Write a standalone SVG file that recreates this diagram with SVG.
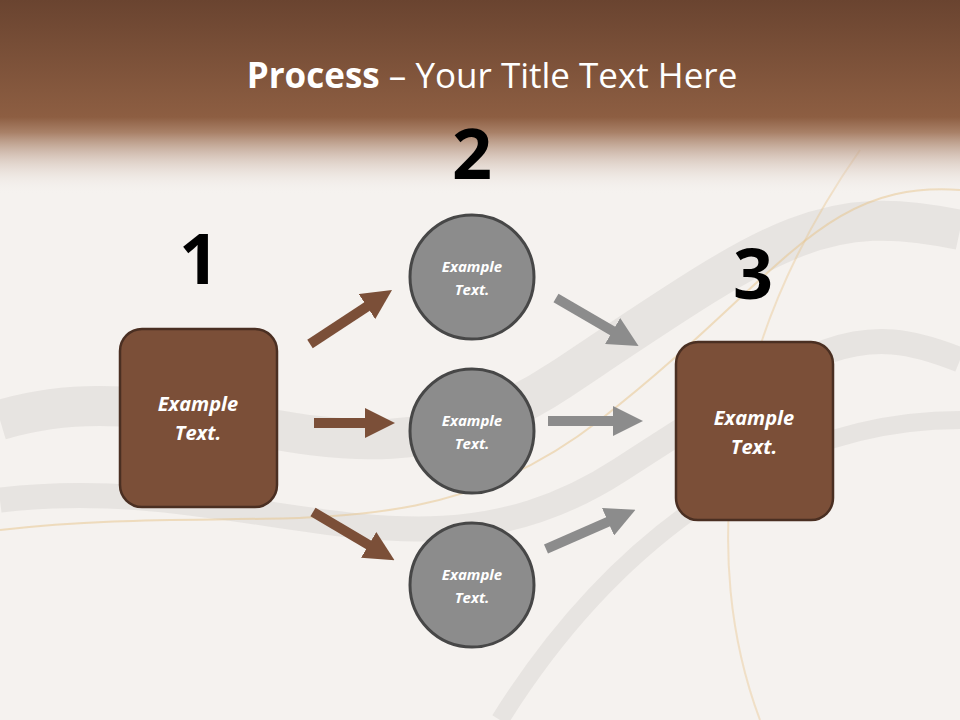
<svg xmlns="http://www.w3.org/2000/svg" width="960" height="720" viewBox="0 0 960 720">
<defs>
<linearGradient id="hdr" x1="0" y1="0" x2="0" y2="1">
<stop offset="0" stop-color="#6a4430"/>
<stop offset="0.6" stop-color="#8d5e42"/>
<stop offset="0.68" stop-color="#a98168"/>
<stop offset="1" stop-color="#f6f3f1" stop-opacity="0"/>
</linearGradient>
<marker id="ab" viewBox="0 0 10 10" refX="4" refY="5" markerWidth="3" markerHeight="3" orient="auto"><path d="M0,0 L10,5 L0,10 z" fill="#7b4f38"/></marker>
<marker id="ag" viewBox="0 0 10 10" refX="4" refY="5" markerWidth="3" markerHeight="3" orient="auto"><path d="M0,0 L10,5 L0,10 z" fill="#8c8c8c"/></marker>
<style>
.box{fill:#7b4f38;stroke:#4a2f22;stroke-width:2.5}
.cir{fill:#8c8c8c;stroke:#474747;stroke-width:3}
.bt{font-family:"Open Sans","Liberation Sans",sans-serif;font-weight:bold;font-style:italic;fill:#fff;text-anchor:middle}
.num{font-family:"Open Sans","Liberation Sans",sans-serif;font-weight:bold;font-size:70px;fill:#000;text-anchor:middle}
.wave{fill:none;stroke:#c8c4c0;stroke-opacity:0.3}
</style>
</defs>
<rect width="960" height="720" fill="#f5f2ef"/>
<g>
<path class="wave" stroke-width="40" d="M0,420 C200,360 350,520 560,380 S820,200 960,230"/>
<path class="wave" stroke-width="25" d="M0,500 C250,470 420,600 620,470 S860,320 960,360"/>
<path class="wave" stroke-width="18" d="M500,720 C600,560 760,420 960,420"/>
<path fill="none" stroke="#e8c48a" stroke-width="2" stroke-opacity="0.5" d="M0,530 C260,500 420,560 600,420 S820,180 960,190"/>
<path fill="none" stroke="#e8c48a" stroke-width="2" stroke-opacity="0.4" d="M760,720 C700,560 720,350 860,150"/>
</g>
<rect width="960" height="195" fill="url(#hdr)"/>
<text x="492" y="88" font-family="'Open Sans','Liberation Sans',sans-serif" font-size="35" fill="#fff" text-anchor="middle"><tspan font-weight="bold">Process</tspan> – Your Title Text Here</text>
<text class="num" x="199" y="284">1</text>
<text class="num" x="472" y="179">2</text>
<text class="num" x="753" y="299">3</text>
<g id="connectors" stroke-width="10">
<line x1="310" y1="344" x2="377" y2="300" stroke="#7b4f38" marker-end="url(#ab)"/>
<line x1="314" y1="423" x2="377" y2="423" stroke="#7b4f38" marker-end="url(#ab)"/>
<line x1="313" y1="512" x2="379" y2="551" stroke="#7b4f38" marker-end="url(#ab)"/>
<line x1="556" y1="298" x2="623" y2="337" stroke="#8c8c8c" marker-end="url(#ag)"/>
<line x1="548" y1="421" x2="625" y2="421" stroke="#8c8c8c" marker-end="url(#ag)"/>
<line x1="546" y1="549" x2="619" y2="517" stroke="#8c8c8c" marker-end="url(#ag)"/>
</g>
<g id="box1"><rect class="box" x="120" y="329" width="157" height="178" rx="22"/><text class="bt" font-size="20" x="198" y="411">Example</text><text class="bt" font-size="20" x="198" y="440">Text.</text></g>
<g id="box3"><rect class="box" x="676" y="342" width="157" height="178" rx="22"/><text class="bt" font-size="20" x="754" y="425">Example</text><text class="bt" font-size="20" x="754" y="454">Text.</text></g>
<g id="c1"><circle class="cir" cx="472" cy="277" r="62"/><text class="bt" font-size="15" x="472" y="272">Example</text><text class="bt" font-size="15" x="472" y="295">Text.</text></g>
<g id="c2"><circle class="cir" cx="472" cy="431" r="62"/><text class="bt" font-size="15" x="472" y="426">Example</text><text class="bt" font-size="15" x="472" y="449">Text.</text></g>
<g id="c3"><circle class="cir" cx="472" cy="585" r="62"/><text class="bt" font-size="15" x="472" y="580">Example</text><text class="bt" font-size="15" x="472" y="603">Text.</text></g>
</svg>
